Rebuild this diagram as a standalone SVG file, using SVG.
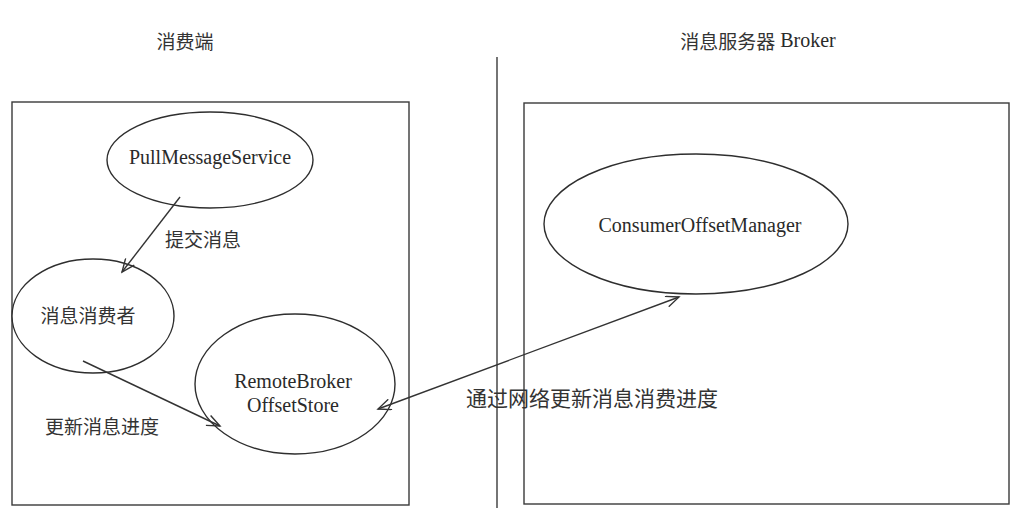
<svg xmlns="http://www.w3.org/2000/svg" width="1026" height="518" viewBox="0 0 1026 518">
<style>
.bg{fill:#ffffff}
.box{fill:none;stroke:#3a3a3a;stroke-width:1.4}
.node{fill:#ffffff;stroke:#2e2e2e;stroke-width:1.4}
.conn{fill:none;stroke:#333333;stroke-width:1.4}
text{font-family:"Liberation Serif","Noto Sans CJK SC",serif;fill:#2a2a2a;font-size:20px;text-anchor:middle;dominant-baseline:central}
.cjk{font-family:"Noto Sans CJK SC","Liberation Serif",sans-serif;font-size:19px;fill:#333333}
</style>
<defs>
<marker id="arr" markerWidth="16" markerHeight="12" refX="14" refY="6" orient="auto-start-reverse" markerUnits="userSpaceOnUse">
<path d="M1,0.5 L14,6 L1,11.5" fill="none" stroke="#333333" stroke-width="1.4"/>
</marker>
</defs>
<rect class="bg" x="0" y="0" width="1026" height="518"/>
<g id="titles">
<text class="cjk" x="185" y="40">消费端</text>
<text x="758" y="40"><tspan class="cjk">消息服务器</tspan> Broker</text>
</g>
<g id="frames">
<rect class="box" x="12" y="102" width="397" height="403"/>
<rect class="box" x="524" y="103" width="485" height="401"/>
<line class="box" x1="497" y1="57" x2="497" y2="508"/>
</g>
<g id="node-pullmessageservice">
<ellipse class="node" cx="210" cy="160" rx="103" ry="48"/>
<text x="210" y="157">PullMessageService</text>
</g>
<g id="node-consumer">
<ellipse class="node" cx="93" cy="316" rx="81" ry="57"/>
<text class="cjk" x="88" y="314">消息消费者</text>
</g>
<g id="node-remotebroker">
<ellipse class="node" cx="295" cy="384" rx="100" ry="70"/>
<text x="293" y="381">RemoteBroker</text>
<text x="293" y="405">OffsetStore</text>
</g>
<g id="node-consumeroffsetmanager">
<ellipse class="node" cx="696" cy="224" rx="152" ry="70"/>
<text x="700" y="225">ConsumerOffsetManager</text>
</g>
<g id="connectors">
<line class="conn" x1="180" y1="197" x2="122" y2="272" marker-end="url(#arr)"/>
<line class="conn" x1="83" y1="361" x2="220" y2="426" marker-end="url(#arr)"/>
<line class="conn" x1="378" y1="409" x2="679" y2="297" marker-start="url(#arr)" marker-end="url(#arr)"/>
</g>
<g id="labels">
<text class="cjk" x="203" y="238">提交消息</text>
<text class="cjk" x="102" y="425">更新消息进度</text>
<text class="cjk" x="592" y="397" style="font-size:21px">通过网络更新消息消费进度</text>
</g>
</svg>
